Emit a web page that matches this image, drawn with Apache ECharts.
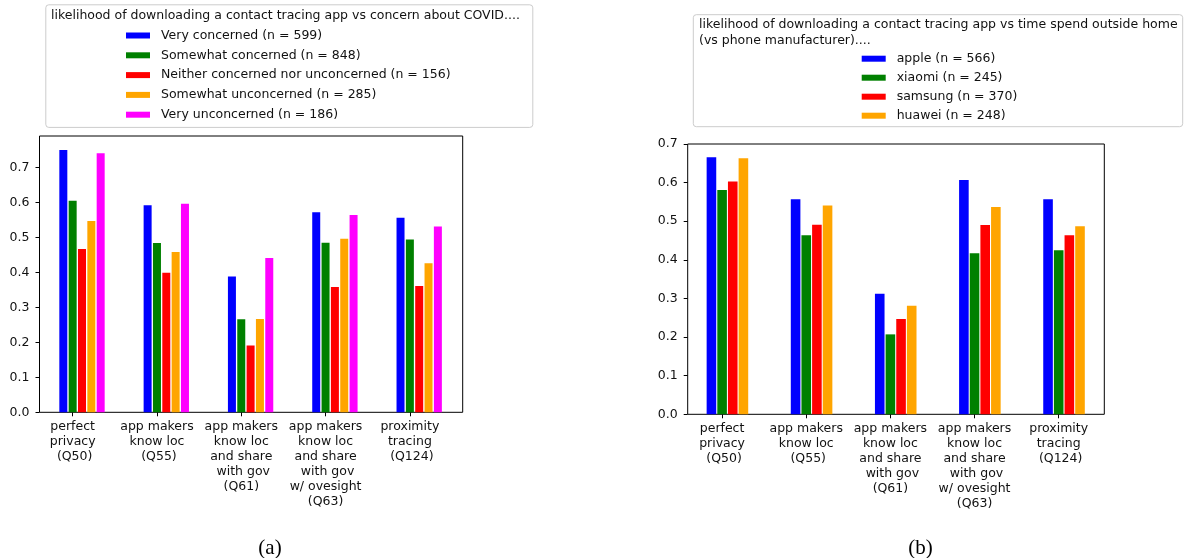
<!DOCTYPE html>
<html>
<head>
<meta charset="utf-8">
<script src="https://cdn.jsdelivr.net/npm/echarts@6/dist/echarts.min.js"></script>
<style>
html,body{margin:0;padding:0;background:#fff;}
#chart{width:1185px;height:558px;}
</style>
</head>
<body>
<div id="chart"></div>
<script>
// ---- data ----
const categories = [
  'perfect\nprivacy\n (Q50)',
  'app makers\nknow loc\n (Q55)',
  'app makers\nknow loc\nand share\n with gov\n(Q61)',
  'app makers\nknow loc\nand share\n with gov\nw/ ovesight\n(Q63)',
  'proximity\ntracing\n (Q124)'
];
const yTicks = [0.0, 0.1, 0.2, 0.3, 0.4, 0.5, 0.6, 0.7];

const concernNames = [
  'Very concerned (n = 599)',
  'Somewhat concerned (n = 848)',
  'Neither concerned nor unconcerned (n = 156)',
  'Somewhat unconcerned (n = 285)',
  'Very unconcerned (n = 186)'
];
const veryConcerned       = [0.750, 0.592, 0.388, 0.572, 0.556];
const somewhatConcerned   = [0.605, 0.484, 0.266, 0.485, 0.494];
const neitherConcerned    = [0.467, 0.399, 0.191, 0.358, 0.361];
const somewhatUnconcerned = [0.547, 0.458, 0.267, 0.496, 0.426];
const veryUnconcerned     = [0.741, 0.596, 0.441, 0.564, 0.531];

const phoneNames = [
  'apple (n = 566)',
  'xiaomi (n = 245)',
  'samsung (n = 370)',
  'huawei (n = 248)'
];
const apple   = [0.666, 0.557, 0.312, 0.607, 0.557];
const xiaomi  = [0.581, 0.464, 0.207, 0.417, 0.425];
const samsung = [0.603, 0.491, 0.247, 0.490, 0.464];
const huawei  = [0.663, 0.541, 0.281, 0.537, 0.487];

const titleA = 'likelihood of downloading a contact tracing app vs concern about COVID....';
const titleB1 = 'likelihood of downloading a contact tracing app vs time spend outside home';
const titleB2 = '(vs phone manufacturer)....';

// ---- styling ----
const colorsA = ['#0000ff', '#008000', '#ff0000', '#ffa500', '#ff00ff'];
const colorsB = ['#0000ff', '#008000', '#ff0000', '#ffa500'];
const FONT = 'DejaVu Sans';
const FS = 12.5;
const TXT = '#111';

const valuesA = [veryConcerned, somewhatConcerned, neitherConcerned, somewhatUnconcerned, veryUnconcerned];
const valuesB = [apple, xiaomi, samsung, huawei];

const L = {frame:{left:39.5, top:136, width:423.2, height:276.3},
           bars:{left:39.85, width:421.5}, ticks:{left:30.52}, ymax:0.79};
const R = {frame:{left:687.7, top:144, width:416.6, height:270.3},
           bars:{left:685.35, width:420.75}, ticks:{left:680.0}, ymax:0.7};

function grids(c){
  return [
    {left:c.frame.left, top:c.frame.top, width:c.frame.width, height:c.frame.height,
     show:true, borderColor:'#000', borderWidth:1, backgroundColor:'transparent', outerBoundsMode:'none'},
    {left:c.bars.left, top:c.frame.top, width:c.bars.width, height:c.frame.height, outerBoundsMode:'none'},
    {left:c.ticks.left, top:c.frame.top, width:c.bars.width, height:c.frame.height, outerBoundsMode:'none'}
  ];
}
function xAxes(g0){
  return [
    {type:'category', gridIndex:g0, data:categories, show:false},
    {type:'category', gridIndex:g0+1, data:categories, show:false},
    {type:'category', gridIndex:g0+2, data:categories,
     axisLine:{show:false},
     axisTick:{show:true, alignWithLabel:true, length:4, lineStyle:{color:'#000', width:1}},
     axisLabel:{interval:0, fontFamily:FONT, fontSize:FS, lineHeight:15, color:TXT, margin:7, align:'center'}}
  ];
}
function yAxes(g0, ymax){
  return [
    {type:'value', gridIndex:g0, min:0, max:ymax, interval:0.1,
     axisLine:{show:false}, splitLine:{show:false},
     axisTick:{show:true, length:4, customValues:yTicks, lineStyle:{color:'#000', width:1}},
     axisLabel:{fontFamily:FONT, fontSize:FS, color:TXT, margin:10, customValues:yTicks,
       formatter:function(v){ return Number(v).toFixed(1); }}},
    {type:'value', gridIndex:g0+1, min:0, max:ymax, show:false, splitLine:{show:false}},
    {type:'value', gridIndex:g0+2, min:0, max:ymax, show:false, splitLine:{show:false}}
  ];
}

const series = [];
concernNames.forEach(function(n, i){
  series.push({type:'bar', name:n, xAxisIndex:1, yAxisIndex:1, data:valuesA[i],
    barWidth:8, barGap:'16.7%', itemStyle:{color:colorsA[i]}, silent:true, animation:false});
});
phoneNames.forEach(function(n, i){
  series.push({type:'bar', name:n, xAxisIndex:4, yAxisIndex:4, data:valuesB[i],
    barWidth:9.6, barGap:'11%', itemStyle:{color:colorsB[i]}, silent:true, animation:false});
});

const legendText = {fontFamily:FONT, fontSize:FS, color:TXT, lineHeight:15, padding:[0,0,0,6]};

const option = {
  animation:false,
  backgroundColor:'#fff',
  grid: grids(L).concat(grids(R)),
  xAxis: xAxes(0).concat(xAxes(3)),
  yAxis: yAxes(0, L.ymax).concat(yAxes(3, R.ymax)),
  legend: [
    {data:concernNames, orient:'vertical', left:126, top:28, itemWidth:24, itemHeight:6,
     itemGap:4.8, icon:'rect', textStyle:legendText, selectedMode:false, padding:0},
    {data:phoneNames, orient:'vertical', left:861.7, top:51.2, itemWidth:24, itemHeight:6,
     itemGap:4, icon:'rect', textStyle:legendText, selectedMode:false, padding:0}
  ],
  graphic: [
    {type:'rect', shape:{x:45.8, y:4.8, width:487, height:122.6, r:3},
     style:{fill:'#fff', stroke:'#cccccc', lineWidth:1}, z:-1},
    {type:'text', style:{text:titleA, x:51, y:16.2, fontFamily:FONT, fontSize:FS, fill:TXT, verticalAlign:'middle'}},
    {type:'rect', shape:{x:693.3, y:14.7, width:489.4, height:112, r:3},
     style:{fill:'#fff', stroke:'#cccccc', lineWidth:1}, z:-1},
    {type:'text', style:{text:titleB1, x:699, y:25, fontFamily:FONT, fontSize:FS, fill:TXT, verticalAlign:'middle'}},
    {type:'text', style:{text:titleB2, x:699, y:41, fontFamily:FONT, fontSize:FS, fill:TXT, verticalAlign:'middle'}},
    {type:'text', style:{text:'(a)', x:270, y:548, fontFamily:'Liberation Serif', fontSize:21, fill:'#000', align:'center', verticalAlign:'middle'}},
    {type:'text', style:{text:'(b)', x:920.5, y:548, fontFamily:'Liberation Serif', fontSize:21, fill:'#000', align:'center', verticalAlign:'middle'}}
  ],
  series: series
};

const chart = echarts.init(document.getElementById('chart'), null, {renderer:'canvas'});
chart.setOption(option);
</script>
</body>
</html>
